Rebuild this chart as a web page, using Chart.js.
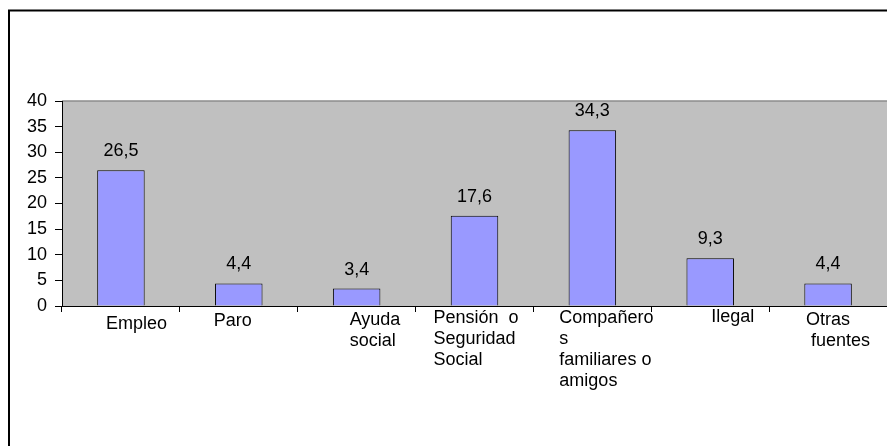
<!DOCTYPE html>
<html>
<head>
<meta charset="utf-8">
<script src="https://cdn.jsdelivr.net/npm/chart.js@4/dist/chart.umd.min.js"></script>
<style>
  html, body { margin: 0; padding: 0; background: #fff; }
  #wrap { width: 887px; height: 446px; position: relative; }
</style>
</head>
<body>
<div id="wrap"><canvas id="chart"></canvas></div>
<script>
// Datos del gráfico
const categorias = [
  ["Empleo"],
  ["Paro"],
  ["Ayuda", "social"],
  ["Pensión  o", "Seguridad", "Social"],
  ["Compañero", "s", "familiares o", "amigos"],
  ["Ilegal"],
  ["Otras", " fuentes"]
];
const valores = [26.5, 4.4, 3.4, 17.6, 34.3, 9.3, 4.4];
const yTicks = [0, 5, 10, 15, 20, 25, 30, 35, 40];

// Posición de cada etiqueta respecto al centro de su categoría (dx, línea base)
const etiquetaDx = [-15, -25, -7, -41, -33, 1, -22];
const etiquetaY = [329, 326, 325, 323, 323, 322, 325];

const FONT = "Liberation Sans, Arial, sans-serif";

// Fondo gris del área de trazado y marco exterior
const fondoPlugin = {
  id: "fondo",
  beforeDraw(chart) {
    const { ctx, chartArea: a } = chart;
    ctx.save();
    ctx.fillStyle = "#c0c0c0";
    ctx.fillRect(a.left, a.top, a.right - a.left, a.bottom - a.top);
    ctx.strokeStyle = "#8c8c8c";
    ctx.lineWidth = 1.5;
    ctx.beginPath();
    ctx.moveTo(a.left, a.top);
    ctx.lineTo(a.right, a.top);
    ctx.stroke();
    // marco exterior
    ctx.strokeStyle = "#000";
    ctx.lineWidth = 2;
    ctx.beginPath();
    ctx.moveTo(9, chart.height);
    ctx.lineTo(9, 10.5);
    ctx.lineTo(chart.width, 10.5);
    ctx.stroke();
    ctx.restore();
  }
};

// Valores encima de las barras y etiquetas de categorías
const textoPlugin = {
  id: "textos",
  afterDatasetsDraw(chart) {
    const { ctx } = chart;
    const meta = chart.getDatasetMeta(0);
    const xScale = chart.scales.x;
    ctx.save();
    ctx.font = "18px " + FONT;
    ctx.fillStyle = "#000";
    ctx.textAlign = "center";
    ctx.textBaseline = "alphabetic";
    meta.data.forEach((bar, i) => {
      ctx.fillText(String(valores[i]).replace(".", ","), bar.x, bar.y - 14);
    });
    ctx.textAlign = "left";
    categorias.forEach((lineas, i) => {
      const cx = xScale.getPixelForValue(i);
      lineas.forEach((t, j) => {
        ctx.fillText(t, cx + etiquetaDx[i], etiquetaY[i] + j * 21);
      });
    });
    ctx.restore();
  }
};

new Chart(document.getElementById("chart"), {
  type: "bar",
  data: {
    labels: categorias.map((c) => c.join(" ")),
    datasets: [
      {
        data: valores,
        backgroundColor: "#9999ff",
        borderColor: "#000",
        borderWidth: 1,
        categoryPercentage: 1,
        barPercentage: 0.403
      }
    ]
  },
  options: {
    responsive: true,
    maintainAspectRatio: false,
    animation: false,
    layout: { padding: { top: 101, left: 0, right: 0, bottom: 0 } },
    plugins: {
      legend: { display: false },
      tooltip: { enabled: false }
    },
    scales: {
      x: {
        afterFit(scale) { scale.height = 140; },
        ticks: { display: false },
        grid: {
          offset: true,
          drawOnChartArea: false,
          drawTicks: true,
          tickLength: 6,
          tickColor: "#000"
        },
        border: { display: true, color: "#000", width: 1 }
      },
      y: {
        min: 0,
        max: 40,
        afterFit(scale) { scale.width = 62; },
        afterBuildTicks(scale) {
          scale.ticks = yTicks.map((v) => ({ value: v }));
        },
        ticks: {
          color: "#000",
          font: { family: FONT, size: 18 },
          padding: 8
        },
        grid: {
          drawOnChartArea: false,
          drawTicks: true,
          tickLength: 7,
          tickColor: "#000"
        },
        border: { display: true, color: "#000", width: 1 }
      }
    }
  },
  plugins: [fondoPlugin, textoPlugin]
});
</script>
</body>
</html>
